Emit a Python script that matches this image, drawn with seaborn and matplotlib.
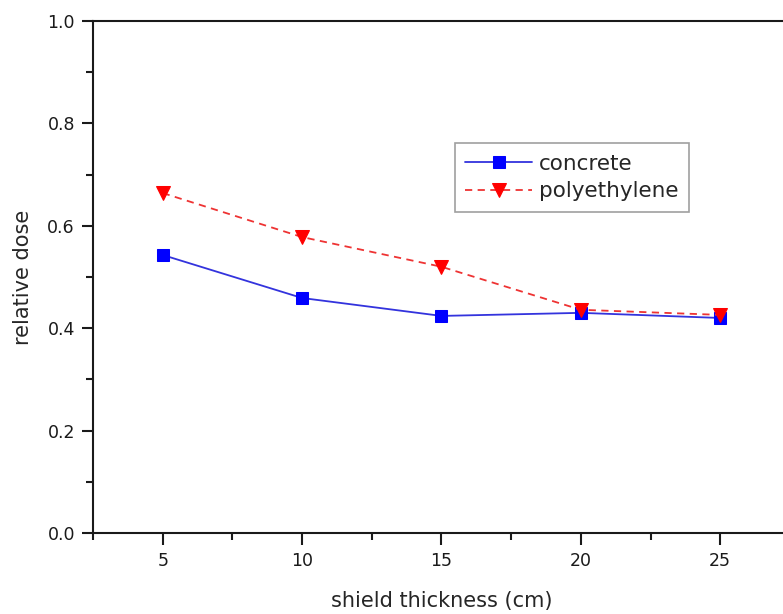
import matplotlib
matplotlib.use("Agg")
import matplotlib.pyplot as plt
from matplotlib.ticker import MultipleLocator
import seaborn as sns
import pandas as pd

thickness = [5, 10, 15, 20, 25]
concrete = [0.543, 0.459, 0.424, 0.430, 0.420]
polyethylene = [0.664, 0.578, 0.520, 0.436, 0.426]

sns.set_style("ticks")
plt.rcParams["font.family"] = ["DejaVu Sans"]

fig = plt.figure(figsize=(7.83, 6.14), dpi=100)
ax = fig.add_axes([0.1188, 0.1319, 0.89, 0.8339])

df_c = pd.DataFrame({"x": thickness, "y": concrete})
df_p = pd.DataFrame({"x": thickness, "y": polyethylene})

sns.lineplot(data=df_c, x="x", y="y", ax=ax, color="#3333dd", lw=1.3,
             marker="s", markersize=8, markerfacecolor="#0000ff",
             markeredgecolor="#0000ff", label="concrete")
sns.lineplot(data=df_p, x="x", y="y", ax=ax, color="#ee3333", lw=1.3,
             linestyle=(0, (4, 3)), marker="v", markersize=10,
             markerfacecolor="#ff0000", markeredgecolor="#ff0000",
             label="polyethylene")

ax.set_xlim(2.5, 27.5)
ax.set_ylim(0.0, 1.0)
ax.xaxis.set_major_locator(MultipleLocator(5))
ax.xaxis.set_minor_locator(MultipleLocator(2.5))
ax.yaxis.set_major_locator(MultipleLocator(0.2))
ax.yaxis.set_minor_locator(MultipleLocator(0.1))
ax.set_yticklabels([f"{v:.1f}" for v in ax.get_yticks()])

for s in ax.spines.values():
    s.set_linewidth(1.5)
    s.set_color("#1a1a1a")
ax.tick_params(which="major", direction="out", width=1.5,
               labelsize=12.5, colors="#1a1a1a")
ax.tick_params(which="minor", direction="out", width=1.5, colors="#1a1a1a")
ax.tick_params(axis="x", which="major", length=8.5, pad=5)
ax.tick_params(axis="x", which="minor", length=5)
ax.tick_params(axis="y", which="major", length=8, pad=5)
ax.tick_params(axis="y", which="minor", length=5)

ax.set_xlabel("shield thickness (cm)", fontsize=15, labelpad=15)
ax.set_ylabel("relative dose", fontsize=15, labelpad=10)

leg = ax.legend(loc="upper left", bbox_to_anchor=(0.519, 0.762), fontsize=15.5,
                frameon=True, fancybox=False, handlelength=3.1,
                handletextpad=0.3, borderpad=0.5, labelspacing=0.36,
                borderaxespad=0)
leg.get_frame().set_edgecolor("#888888")
leg.get_frame().set_linewidth(1.2)

fig.savefig("out.png", dpi=100)
